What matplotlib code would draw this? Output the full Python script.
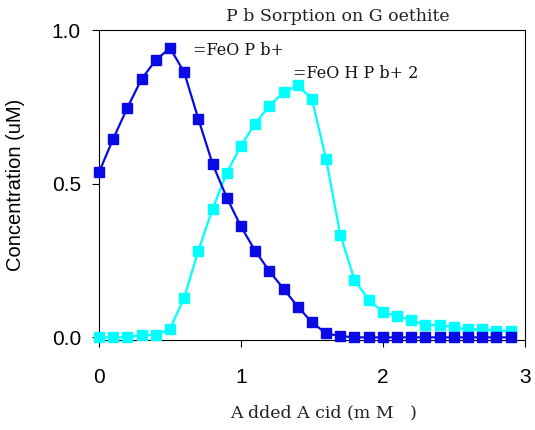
import numpy as np
import matplotlib
matplotlib.use("Agg")
import matplotlib.pyplot as plt

acid = [0.0, 0.1, 0.2, 0.3, 0.4, 0.5, 0.6, 0.7, 0.8, 0.9, 1.0, 1.1, 1.2, 1.3,
        1.4, 1.5, 1.6, 1.7, 1.8, 1.9, 2.0, 2.1, 2.2, 2.3, 2.4, 2.5, 2.6, 2.7, 2.8, 2.9]
feopb = [0.537, 0.646, 0.747, 0.841, 0.902, 0.942, 0.863, 0.711, 0.565, 0.455,
         0.361, 0.282, 0.216, 0.158, 0.100, 0.049, 0.013, 0.004, 0.0, 0.0,
         0.0, 0.0, 0.0, 0.0, 0.0, 0.0, 0.0, 0.0, 0.0, 0.0]
feohpb = [0.0, 0.0, 0.0, 0.008, 0.008, 0.027, 0.129, 0.282, 0.418, 0.535,
          0.624, 0.695, 0.754, 0.797, 0.820, 0.776, 0.580, 0.334, 0.187, 0.122,
          0.083, 0.069, 0.056, 0.040, 0.040, 0.033, 0.026, 0.026, 0.021, 0.021]

xticks = [0, 1, 2, 3]
yticks = [0.0, 0.5, 1.0]
yticklabels = ["0.0", "0.5", "1.0"]

fig = plt.figure(figsize=(5.35, 4.30), dpi=100)
ax = fig.add_axes([0.185, 0.209, 0.796, 0.721])

blue = "#0a0ae6"
cyan = "#00ffff"
ax.plot(acid, feohpb, color=cyan, lw=1.6, marker="s", ms=7.5, mec=cyan, mfc=cyan, clip_on=False, zorder=3)
ax.plot(acid, feopb, color=blue, lw=1.6, marker="s", ms=7.5, mec=blue, mfc=blue, clip_on=False, zorder=4)

ax.set_xlim(0, 3.0)
ax.set_ylim(-0.009, 1.0)
ax.set_xticks(xticks)
ax.set_xticklabels([str(t) for t in xticks], fontsize=15, family="Liberation Sans")
ax.set_yticks(yticks)
ax.set_yticklabels(yticklabels, fontsize=15, family="Liberation Sans")
ax.tick_params(axis="x", direction="out", length=5, pad=15, width=0.8)
ax.tick_params(axis="y", direction="out", length=5, pad=8, width=0.8)
for s in ax.spines.values():
    s.set_linewidth(0.8)

ax.set_ylabel("Concentration (uM)", fontsize=14.5, family="Liberation Sans")
ax.yaxis.set_label_coords(-0.174, 0.5)
tfont = dict(fontsize=12.5, family="DejaVu Serif", color="#222222")
fig.text(0.604, 0.04, "A dded A cid (m M   )", ha="center", va="center", **tfont)
fig.text(0.632, 0.962, "P b Sorption on G oethite", ha="center", va="center", **tfont)

afont = dict(fontsize=11.5, family="DejaVu Serif", color="#111111")
ax.text(0.66, 0.935, "=FeO P b+", ha="left", va="center", **afont)
ax.text(1.37, 0.86, "=FeO H P b+ 2", ha="left", va="center", **afont)

fig.savefig("out.png", dpi=100)
